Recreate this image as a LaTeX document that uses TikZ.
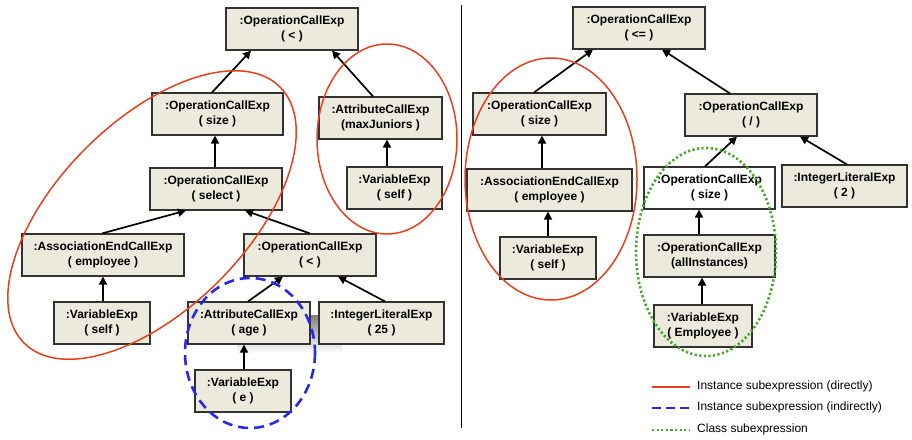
\documentclass[tikz,border=0pt]{standalone}
\usepackage{fontspec}
\setmainfont{Liberation Sans}
\usetikzlibrary{arrows.meta}
\definecolor{boxfill}{RGB}{235,234,221}
\definecolor{boxline}{RGB}{50,50,50}
\definecolor{shade}{RGB}{241,240,232}
\definecolor{myred}{RGB}{232,64,28}
\definecolor{myblue}{RGB}{40,40,235}
\definecolor{mygreen}{RGB}{68,168,42}
\tikzset{
  bx/.style={draw=boxline, fill=boxfill, line width=1.1pt, align=center, inner sep=1pt,
    minimum height=42pt, font=\bfseries\fontsize{12}{14.5}\selectfont},
  wbx/.style={bx, fill=white},
  arr/.style={line width=1.7pt, -{Triangle[length=8pt,width=8pt]}},
  redell/.style={draw=myred, line width=1.5pt},
  blueell/.style={draw=myblue, line width=2.6pt, dash pattern=on 10pt off 6pt},
  greenell/.style={draw=mygreen, line width=2.6pt, dash pattern=on 2.2pt off 2.4pt},
  legtext/.style={anchor=west, inner sep=0pt, font=\fontsize{12}{14}\selectfont}
}
\begin{document}
\begin{tikzpicture}[x=1pt,y=-1pt]
\useasboundingbox (0,0) rectangle (912,439);
% shadow artifact
\fill[shade] (237,315) rectangle (342,353);
% ---------- left tree ----------
\node[bx, minimum width=132pt] (lt) at (292,29) {:OperationCallExp\\( < )};
\node[bx, minimum width=131pt] (lsize) at (217.5,114) {:OperationCallExp\\( size )};
\node[bx, minimum width=123pt] (lmax) at (380.5,118) {:AttributeCallExp\\(maxJuniors )};
\node[bx, minimum width=132pt] (lsel) at (216,189) {:OperationCallExp\\( select )};
\node[bx, minimum width=95pt] (lself2) at (394.5,188) {:VariableExp\\( self )};
\node[bx, minimum width=162pt] (lassoc) at (103,255) {:AssociationEndCallExp\\( employee )};
\node[bx, minimum width=132pt] (llt) at (310,255) {:OperationCallExp\\( < )};
\node[bx, minimum width=96pt] (lself) at (102,323) {:VariableExp\\( self )};
\node[bx, minimum width=122pt] (lage) at (249,323) {:AttributeCallExp\\( age )};
\node[bx, minimum width=125pt] (l25) at (381.5,323) {:IntegerLiteralExp\\( 25 )};
\node[bx, minimum width=96pt] (le) at (243,391) {:VariableExp\\( e )};

\draw[arr] ([xshift=-5.5pt]lsize.north) -- ([xshift=-41pt]lt.south);
\draw[arr] ([xshift=-7.5pt]lmax.north) -- ([xshift=40pt]lt.south);
\draw[arr] ([xshift=-1pt]lsel.north) -- ([xshift=-1pt]lsel.north |- lsize.south);
\draw[arr] ([xshift=-7.5pt]lself2.north) -- ([xshift=-7.5pt]lself2.north |- lmax.south);
\draw[arr] ([xshift=-1pt]lassoc.north) -- ([xshift=-30pt]lsel.south);
\draw[arr] (llt.north) -- ([xshift=29pt]lsel.south);
\draw[arr] ([xshift=1pt]lself.north) -- ([xshift=1pt]lself.north |- lassoc.south);
\draw[arr] ([xshift=-1pt]lage.north) -- ([xshift=-27pt]llt.south);
\draw[arr] ([xshift=3.5pt]l25.north) -- ([xshift=28pt]llt.south);
\draw[arr] ([xshift=1pt]le.north) -- ([xshift=1pt]le.north |- lage.south);

% left ellipses
\draw[redell, rotate around={45:(152,215)}] (152,215) ellipse [x radius=181, y radius=94];
\draw[redell] (387,139) ellipse [x radius=70, y radius=95];
\draw[blueell] (250,353) ellipse [x radius=65, y radius=75];

% separator
\draw[line width=1pt] (461,5) -- (461,428);

% ---------- right tree ----------
\node[bx, minimum width=132pt] (rt) at (639,28) {:OperationCallExp\\( <= )};
\node[bx, minimum width=133pt] (rsize) at (539.5,114) {:OperationCallExp\\( size )};
\node[bx, minimum width=132pt] (rdiv) at (751,115) {:OperationCallExp\\( / )};
\node[bx, minimum width=165pt] (rassoc) at (549.5,190) {:AssociationEndCallExp\\( employee )};
\node[wbx, minimum width=131pt] (rsizew) at (709.5,188) {:OperationCallExp\\( size )};
\node[bx, minimum width=125pt] (r2) at (844.5,186) {:IntegerLiteralExp\\( 2 )};
\node[bx, minimum width=96pt] (rself) at (548,258) {:VariableExp\\( self )};
\node[bx, minimum width=131pt] (rall) at (709.5,256) {:OperationCallExp\\(allInstances)};
\node[bx, minimum width=98pt] (remp) at (703,326) {:VariableExp\\( Employee )};

\draw[arr] ([xshift=-5.5pt]rsize.north) -- ([xshift=-46pt]rt.south);
\draw[arr] ([xshift=-21pt]rdiv.north) -- ([xshift=23pt]rt.south);
\draw[arr] ([xshift=-7.5pt]rassoc.north) -- ([xshift=-7.5pt]rassoc.north |- rsize.south);
\draw[arr] ([xshift=-4.5pt]rsizew.north) -- ([xshift=-14pt]rdiv.south);
\draw[arr] ([xshift=2.5pt]r2.north) -- ([xshift=49pt]rdiv.south);
\draw[arr] (rself.north) -- (rself.north |- rassoc.south);
\draw[arr] ([xshift=-10.5pt]rall.north) -- ([xshift=-10.5pt]rall.north |- rsizew.south);
\draw[arr] ([xshift=-1pt]remp.north) -- ([xshift=-1pt]remp.north |- rall.south);

% right ellipses
\draw[redell] (551,179) ellipse [x radius=86, y radius=121];
\draw[greenell] (706,252) ellipse [x radius=70, y radius=104];

% legend
\draw[draw=myred, line width=1.5pt] (652,387) -- (690,387);
\draw[draw=myblue, line width=2.6pt, dash pattern=on 9pt off 5pt] (652,408) -- (690,408);
\draw[draw=mygreen, line width=2.6pt, dash pattern=on 2.2pt off 2.4pt] (652,430) -- (689,430);
\node[legtext] (lg1) at (697,386) {Instance subexpression (directly)};
\node[legtext] (lg2) at (697,407) {Instance subexpression (indirectly)};
\node[legtext] (lg3) at (697,429) {Class subexpression};
\end{tikzpicture}
\end{document}
